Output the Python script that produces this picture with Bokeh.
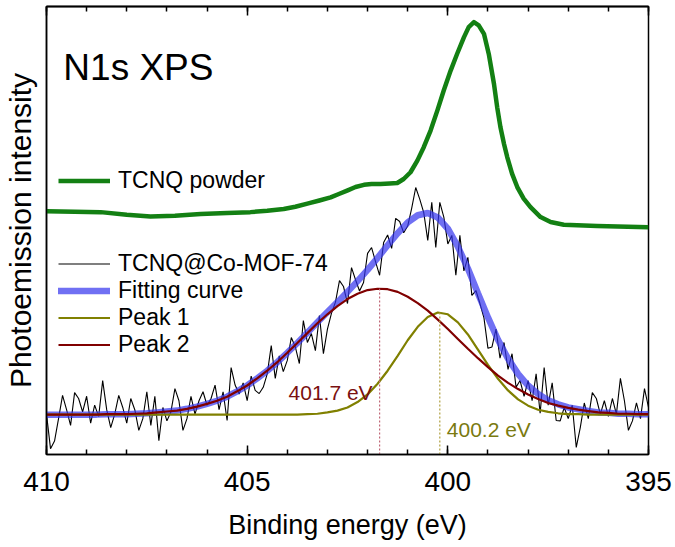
from bokeh.plotting import figure
from bokeh.models import Range1d, FixedTicker, LinearAxis, Legend, LegendItem, Label, ColumnDataSource
from bokeh.embed import file_html
from bokeh.resources import INLINE

# ---------------- data ----------------
x_ticks = [410, 405, 400, 395]
x_minor = [395, 396, 397, 398, 399, 400, 401, 402, 403, 404, 405, 406, 407, 408, 409, 410]

# TCNQ powder (green)
powder_x = [395.0, 396.28, 397.11, 397.44, 397.69, 397.94, 398.11, 398.27, 398.40, 398.52,
            398.60, 398.69, 398.77, 398.85, 398.98, 399.10, 399.23, 399.35, 399.48, 399.60,
            399.77, 399.93, 400.10, 400.26, 400.43, 400.60, 400.76, 400.93, 401.10, 401.26,
            401.45, 401.68, 401.90, 402.09, 402.30, 402.51, 402.70, 402.92, 403.20, 403.50,
            403.80, 404.09, 404.50, 404.92, 405.50, 406.16, 406.80, 407.41, 408.00, 408.65,
            409.30, 410.0]
powder_y = [50.7, 51.0, 51.3, 51.9, 53.0, 55.2, 57.1, 59.7, 62.7, 66.4,
            69.3, 73.1, 77.5, 82.7, 89.4, 93.9, 95.8, 96.5, 95.4, 93.1,
            89.4, 85.7, 81.3, 76.8, 72.3, 68.6, 65.6, 63.0, 61.5, 60.6,
            60.5, 60.4, 60.4, 60.2, 59.7, 58.9, 58.2, 57.4, 56.7, 56.0,
            55.3, 54.8, 54.4, 54.1, 53.9, 53.7, 53.3, 53.1, 53.5, 54.1,
            54.2, 54.3]

# TCNQ@Co-MOF-74 (black, 0.1 eV steps from 395 to 410)
mof_x = [round(395 + 0.1 * i, 1) for i in range(151)]
mof_y = [10.5, 14.7, 8.0, 11.5, 7.5, 5.4, 12.0, 17.0, 9.0, 12.5,
         8.5, 12.0, 9.0, 12.5, 13.8, 8.0, 11.5, 6.0, 1.6, 11.0,
         8.0, 10.5, 7.5, 7.6, 16.0, 11.0, 19.4, 9.2, 18.0, 12.0,
         16.5, 13.0, 16.5, 15.0, 22.5, 19.0, 25.0, 21.5, 28.0, 24.0,
         23.7, 30.5, 33.7, 36.6, 35.5, 44.0, 41.0, 48.9, 40.0, 48.9,
         47.0, 53.0, 56.3, 46.2, 56.3, 47.8, 54.0, 57.0, 59.6, 55.0,
         51.0, 49.5, 52.0, 52.7, 46.0, 49.0, 47.3, 40.0, 43.0, 46.2,
         44.9, 38.4, 36.5, 39.0, 41.7, 33.7, 37.5, 38.8, 34.0, 31.5,
         28.0, 22.5, 31.0, 23.2, 27.0, 25.0, 29.9, 20.3, 24.0, 26.1,
         21.0, 18.5, 22.0, 17.0, 24.3, 18.0, 15.0, 13.6, 14.3, 17.5,
         12.0, 16.0, 13.5, 15.5, 19.4, 7.6, 14.0, 10.0, 15.5, 12.5,
         11.0, 14.0, 12.0, 9.0, 13.0, 8.0, 5.4, 12.0, 14.7, 9.5,
         7.5, 10.5, 3.1, 13.0, 6.5, 14.0, 8.0, 5.4, 10.0, 12.5,
         7.0, 10.5, 13.2, 9.0, 6.0, 10.0, 16.5, 8.5, 11.0, 7.0,
         13.0, 9.5, 12.5, 13.8, 6.5, 10.0, 13.2, 8.0, 3.0, 1.3,
         9.0]

# fitted curves (0.25 eV steps from 395 to 410)
fit_x = [395 + 0.25 * i for i in range(61)]
fit_y = [9.0, 9.0, 9.1, 9.1, 9.3, 9.4, 9.7, 10.1, 10.5, 11.2, 12.1, 13.5, 15.4, 18.0, 21.4, 25.6,
         30.6, 36.0, 41.5, 46.4, 50.4, 52.9, 53.9, 53.4, 51.8, 49.4, 46.7, 43.9, 41.2, 38.7,
         36.3, 34.0, 31.8, 29.5, 27.2, 24.9, 22.7, 20.6, 18.7, 17.0, 15.4, 14.1, 12.9, 12.0,
         11.3, 10.7, 10.2, 9.8, 9.6, 9.4, 9.2, 9.1, 9.0, 9.0, 9.0, 8.9, 8.9, 8.9, 8.9, 8.9, 8.9]
peak1_y = [8.9, 8.9, 8.9, 8.9, 8.9, 8.9, 8.9,
           9.0, 9.0, 9.2, 9.5, 10.0, 10.9, 12.3, 14.3, 16.9, 20.0, 23.4, 26.8, 29.5, 31.3, 31.7,
           30.7, 28.5, 25.5, 22.0, 18.7, 15.8, 13.4, 11.7, 10.5, 9.8, 9.4, 9.1, 9.0,
           8.9, 8.9, 8.9, 8.9, 8.9, 8.9, 8.9, 8.9, 8.9, 8.9, 8.9, 8.9, 8.9, 8.9, 8.9, 8.9, 8.9,
           8.9, 8.9, 8.9, 8.9, 8.9, 8.9, 8.9, 8.9, 8.9]
peak2_y = [9.0, 9.0, 9.1, 9.1, 9.3, 9.4, 9.7, 10.0, 10.4, 10.9, 11.5, 12.4, 13.4, 14.6, 16.0, 17.6,
           19.5, 21.5, 23.6, 25.8, 28.0, 30.1, 32.1, 33.8, 35.2, 36.3, 36.9, 37.0, 36.7, 35.9,
           34.7, 33.1, 31.3, 29.3, 27.1, 24.9, 22.7, 20.6, 18.7, 17.0, 15.4, 14.1, 12.9, 12.0,
           11.3, 10.7, 10.2, 9.8, 9.6, 9.4, 9.2, 9.1, 9.0, 9.0, 9.0, 8.9, 8.9, 8.9, 8.9, 8.9, 8.9]

peak_centers = [400.2, 401.7]

# ---------------- styling ----------------
FONT = "Liberation Sans"
GREEN = "#138013"
BLUE = "#3333ee"
OLIVE = "#808000"
WINE = "#800000"

p = figure(width=675, height=547, output_backend="svg", toolbar_location=None,
           x_range=Range1d(410, 395), y_range=Range1d(0, 100),
           min_border_left=46, min_border_right=27, min_border_top=6, min_border_bottom=93)
p.xgrid.visible = False
p.ygrid.visible = False
p.outline_line_color = "black"
p.outline_line_width = 1.5
p.background_fill_color = "white"

xa = p.xaxis[0]
xa.ticker = FixedTicker(ticks=x_ticks, minor_ticks=x_minor)
xa.major_tick_in = 9
xa.major_tick_out = 0
xa.minor_tick_in = 5
xa.minor_tick_out = 0
xa.axis_line_width = 1.5
xa.major_tick_line_width = 1.5
xa.minor_tick_line_width = 1.5
xa.major_label_text_font = FONT
xa.major_label_text_font_size = "28px"
xa.major_label_text_color = "black"
xa.major_label_standoff = 17
xa.axis_label = "Binding energy (eV)"
xa.axis_label_text_font = FONT
xa.axis_label_text_font_size = "27px"
xa.axis_label_text_font_style = "normal"
xa.axis_label_text_color = "black"
xa.axis_label_standoff = 16

# top border ticks (no labels): short ones every 1 eV, longer ones at the major positions
top_minor = LinearAxis(ticker=FixedTicker(ticks=[], minor_ticks=x_minor),
                       minor_tick_in=5, minor_tick_out=0, axis_line_width=1.5,
                       minor_tick_line_width=1.5)
top_major = LinearAxis(ticker=FixedTicker(ticks=[], minor_ticks=x_ticks),
                       minor_tick_in=9, minor_tick_out=0, axis_line_width=1.5,
                       minor_tick_line_width=1.5)
p.add_layout(top_minor, "above")
p.add_layout(top_major, "above")

ya = p.yaxis[0]
ya.ticker = FixedTicker(ticks=[])
ya.major_label_standoff = 0
ya.major_tick_out = 0
ya.minor_tick_out = 0
ya.axis_line_width = 1.5
ya.axis_label = "Photoemission intensity"
ya.axis_label_text_font = FONT
ya.axis_label_text_font_size = "30px"
ya.axis_label_text_font_style = "normal"
ya.axis_label_text_color = "black"
ya.axis_label_standoff = 10

# ---------------- curves ----------------
r_green = p.line(powder_x, powder_y, line_color=GREEN, line_width=4.5, line_join="round")
r_black = p.line(mof_x, mof_y, line_color="black", line_width=1.1)
r_fit = p.line(fit_x, fit_y, line_color=BLUE, line_alpha=0.7, line_width=6.5, line_cap="round")
r_p1 = p.line(fit_x, peak1_y, line_color=OLIVE, line_width=2.2)
r_p2 = p.line(fit_x, peak2_y, line_color=WINE, line_width=2.2)

src = ColumnDataSource(dict(x=peak_centers, y0=[0, 0], y1=[max(peak1_y), max(peak2_y)],
                            c=["#b0a040", "#c06878"]))
p.segment(x0="x", y0="y0", x1="x", y1="y1", source=src, line_color="c",
          line_width=1.2, line_dash="2 2")

p.add_layout(Label(x=peak_centers[1], y=13.8, text=f"{peak_centers[1]} eV", text_align="right",
                   text_baseline="alphabetic", x_offset=-7, text_color="#7a1010",
                   text_font=FONT, text_font_size="21px"))
p.add_layout(Label(x=peak_centers[0], y=5.6, text=f"{peak_centers[0]} eV", text_align="left",
                   text_baseline="alphabetic", x_offset=7, text_color="#7a7a10",
                   text_font=FONT, text_font_size="21px"))
p.add_layout(Label(x=409.58, y=86.4, text="N1s XPS", text_align="left", text_baseline="alphabetic",
                   text_color="black", text_font=FONT, text_font_size="37px"))

# ---------------- legends ----------------
def make_legend(items, loc):
    lg = Legend(items=items, location=loc, padding=0, margin=0, spacing=0,
                glyph_width=52, glyph_height=27, label_height=27, label_standoff=8,
                label_text_font=FONT, label_text_font_size="23px", label_text_color="black",
                border_line_color=None, background_fill_alpha=0)
    p.add_layout(lg)

make_legend([LegendItem(label="TCNQ powder", renderers=[r_green])], (12, 260))
make_legend([LegendItem(label="TCNQ@Co-MOF-74", renderers=[r_black]),
             LegendItem(label="Fitting curve", renderers=[r_fit]),
             LegendItem(label="Peak 1", renderers=[r_p1]),
             LegendItem(label="Peak 2", renderers=[r_p2])], (12, 96))

open("out.html", "w").write(file_html(p, INLINE))
